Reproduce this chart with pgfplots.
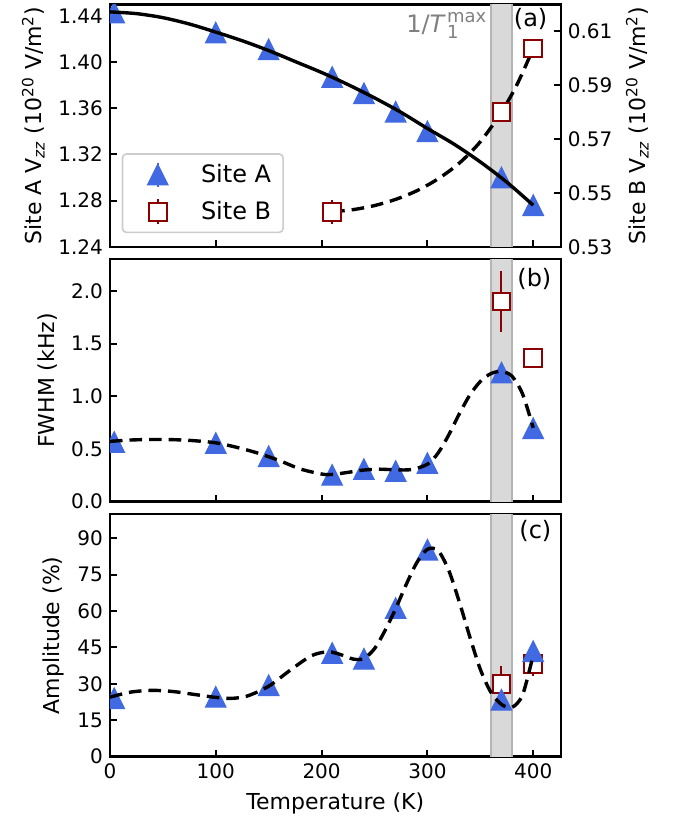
\documentclass[border=0pt]{standalone}
\usepackage{fontspec}
\setmainfont{DejaVu Sans}
\usepackage{amsmath}
\usepackage{pgfplots}
\pgfplotsset{compat=1.18}

\definecolor{royal}{RGB}{65,105,225}
\definecolor{dred}{RGB}{139,0,0}
\definecolor{band}{RGB}{217,217,217}
\definecolor{bandedge}{RGB}{180,180,180}
\definecolor{lgray}{RGB}{128,128,128}

% matplotlib-like "^" marker (centred on its bounding box)
\pgfdeclareplotmark{mtri}{%
  \pgfpathmoveto{\pgfqpoint{0pt}{\pgfplotmarksize}}%
  \pgfpathlineto{\pgfqpoint{-\pgfplotmarksize}{-\pgfplotmarksize}}%
  \pgfpathlineto{\pgfqpoint{\pgfplotmarksize}{-\pgfplotmarksize}}%
  \pgfpathclose
  \pgfusepathqfillstroke}

\tikzset{panlab/.style={anchor=north east, inner sep=0pt, font=\fontsize{12}{14}\selectfont}}

\pgfplotsset{
  panel/.style={
    scale only axis, width=225.5pt, height=121.25pt,
    anchor=south west,
    xmin=0, xmax=426,
    xtick={0,100,200,300,400},
    tick align=inside, major tick length=3.5pt,
    xtick pos=bottom, ytick pos=left,
    axis line style={line width=1.2pt},
    every tick/.style={black, line width=1pt},
    tick label style={font=\fontsize{10}{12}\selectfont},
    label style={font=\fontsize{11}{13}\selectfont},
    /pgf/number format/assume math mode=true,
    clip marker paths=true,
  },
  siteA/.style={only marks, mark=mtri, mark size=5.1pt,
    mark options={draw=royal, fill=royal, line width=0.6pt}},
  siteB/.style={only marks, mark=square*, mark size=4.4pt,
    mark options={draw=dred, fill=white, line width=1pt}},
  errB/.style={draw=none, mark=none,
    error bars/.cd, y dir=both, y explicit, error mark=none,
    error bar style={draw=dred, line width=1pt}},
  fitline/.style={black, line width=1.7pt, smooth},
  fitdash/.style={black, line width=1.7pt, smooth, dash pattern=on 6.3pt off 3.5pt},
}

\begin{document}
\begin{tikzpicture}

% ---------------- (a) Site A axis
\begin{axis}[panel, name=pa, at={(0,255pt)},
  ymin=1.24, ymax=1.45,
  ytick={1.24,1.28,1.32,1.36,1.40,1.44},
  yticklabel style={/pgf/number format/.cd, fixed, fixed zerofill, precision=2},
  xticklabels={},
  ylabel={Site A V$_{\textit{zz}}$ (10$^{\text{20}}$ V/m$^{\text{2}}$)},
  legend style={at={(0.026,0.056)}, anchor=south west,
    draw=black!20, line width=0.8pt, rounded corners=2pt, fill=white,
    font=\fontsize{12}{14}\selectfont, inner xsep=4pt, inner ysep=3pt,
    row sep=4pt},
  legend cell align=left,
]
\addplot[fill=band, draw=bandedge, line width=0.8pt, forget plot]
  coordinates {(360,1.2) (360,1.5) (380,1.5) (380,1.2)} -- cycle;
\addplot[siteA, forget plot] coordinates {
  (4,1.4430) (100,1.4255) (150,1.4110) (210,1.3870) (240,1.3730)
  (270,1.3570) (300,1.3400) (370,1.3000) (400,1.2760)
};
\addplot[fitline, forget plot] coordinates {
  (0,1.4435) (25,1.4420) (50,1.4385) (75,1.4330) (100,1.4260) (125,1.4185)
  (150,1.4100) (175,1.4005) (200,1.3910) (225,1.3805) (250,1.3690)
  (275,1.3565) (300,1.3425) (325,1.3290) (350,1.3135) (375,1.2960) (400,1.2760)
};
\addlegendimage{draw=none, legend image code/.code={%
  \path[draw=none] (0cm,0cm) -- (1.17cm,0cm);
  \draw[royal, line width=0.9pt] (0.48cm,-6pt) -- (0.48cm,6pt);
  \path[draw=royal, fill=royal, line width=0.6pt, mark size=5.1pt]
    plot[only marks, mark=mtri] coordinates {(0.48cm,0cm)};}}
\addlegendentry{Site A}
\addlegendimage{draw=none, legend image code/.code={%
  \path[draw=none] (0cm,0cm) -- (1.17cm,0cm);
  \draw[dred, line width=1pt] (0.48cm,-6.2pt) -- (0.48cm,6.2pt);
  \path[draw=dred, fill=white, line width=1pt, mark size=4.4pt]
    plot[only marks, mark=square*] coordinates {(0.48cm,0cm)};}}
\addlegendentry{Site B}
\node[anchor=north east, inner sep=0pt, text=lgray,
  font=\fontsize{12}{14}\selectfont] at (axis cs:356,1.4435)
  {1/\textit{T}\hspace{0.6pt}\makebox[0pt][l]{\raisebox{-3pt}{\fontsize{9}{10}\selectfont 1}}\raisebox{5pt}{\fontsize{9}{10}\selectfont max}};
\node[panlab] at (rel axis cs:1,1) [xshift=-6.5pt, yshift=-2pt] {(a)};
\end{axis}

% ---------------- (a) Site B axis (right)
\begin{axis}[panel, at={(0,255pt)},
  axis x line=none, axis y line*=right, ytick pos=right,
  ymin=0.53, ymax=0.62,
  ytick={0.53,0.55,0.57,0.59,0.61},
  yticklabel style={/pgf/number format/.cd, fixed, fixed zerofill, precision=2},
  ylabel={Site B V$_{\textit{zz}}$ (10$^{\text{20}}$ V/m$^{\text{2}}$)},
]
\addplot[fitdash] coordinates {
  (210,0.5430) (230,0.5438) (250,0.5453) (270,0.5476) (290,0.5508)
  (310,0.5552) (330,0.5610) (350,0.5690) (370,0.5800) (385,0.5905) (400,0.6036)
};
\addplot[errB] coordinates {(210,0.5430) +- (0,0.0045)};
\addplot[siteB] coordinates {(210,0.5430) (370,0.5800) (400,0.6036)};
\end{axis}

% ---------------- (b)
\begin{axis}[panel, name=pb, at={(0,127.5pt)},
  ymin=0, ymax=2.3,
  ytick={0,0.5,1.0,1.5,2.0},
  yticklabel style={/pgf/number format/.cd, fixed, fixed zerofill, precision=1},
  xticklabels={},
  ylabel={FWHM (kHz)},
]
\addplot[fill=band, draw=bandedge, line width=0.8pt]
  coordinates {(360,-1) (360,3) (380,3) (380,-1)} -- cycle;
\addplot[errB] coordinates {(370,1.898) +- (0,0.286) (400,1.364) +- (0,0.02)};
\addplot[siteB] coordinates {(370,1.898) (400,1.364)};
\addplot[siteA] coordinates {
  (4,0.565) (100,0.556) (150,0.430) (210,0.254) (240,0.308)
  (270,0.290) (300,0.365) (370,1.224) (400,0.696)
};
\addplot[fitdash] coordinates {
  (0,0.572) (20,0.585) (40,0.590) (60,0.588) (80,0.578) (100,0.558)
  (120,0.515) (140,0.460) (160,0.390) (180,0.310) (200,0.262) (210,0.258)
  (225,0.278) (240,0.300) (255,0.308) (270,0.302) (285,0.305) (300,0.355)
  (310,0.460) (320,0.630) (330,0.830) (340,1.010) (350,1.140) (360,1.215)
  (370,1.235) (380,1.190) (390,1.020) (400,0.700)
};
\node[panlab] at (rel axis cs:1,1) [xshift=-4.5pt, yshift=-4.5pt] {(b)};
\end{axis}

% ---------------- (c)
\begin{axis}[panel, name=pc, at={(0,0pt)},
  ymin=0, ymax=100,
  ytick={0,15,30,45,60,75,90},
  ylabel={Amplitude (\%)},
  xlabel={Temperature (K)},
]
\addplot[fill=band, draw=bandedge, line width=0.8pt]
  coordinates {(360,-10) (360,110) (380,110) (380,-10)} -- cycle;
\addplot[errB] coordinates {(370,29.9) +- (0,7.5) (400,38.2) +- (0,5.0)};
\addplot[siteB] coordinates {(370,29.9) (400,38.2)};
\addplot[siteA] coordinates {
  (4,24.0) (100,24.6) (150,29.4) (210,42.7) (240,40.3)
  (270,61.2) (300,85.3) (370,23.4) (400,43.4)
};
\addplot[fitdash] coordinates {
  (0,24.5) (20,26.6) (40,27.3) (60,26.8) (80,25.6) (100,24.4) (115,24.0)
  (130,25.0) (150,29.0) (170,35.5) (190,41.5) (205,43.2) (215,42.5)
  (230,40.2) (240,40.5) (250,44.5) (260,52.0) (270,61.0) (280,71.0)
  (290,80.0) (300,85.5) (310,85.0) (320,77.0) (330,64.0) (340,49.5)
  (350,36.0) (360,26.5) (370,21.5) (380,20.3) (390,25.5) (400,42.0)
};
\node[panlab] at (rel axis cs:1,1) [xshift=-4.5pt, yshift=-3pt] {(c)};
\end{axis}

\path (-55pt,-33.25pt) rectangle (285pt,378.25pt);
\end{tikzpicture}
\end{document}
